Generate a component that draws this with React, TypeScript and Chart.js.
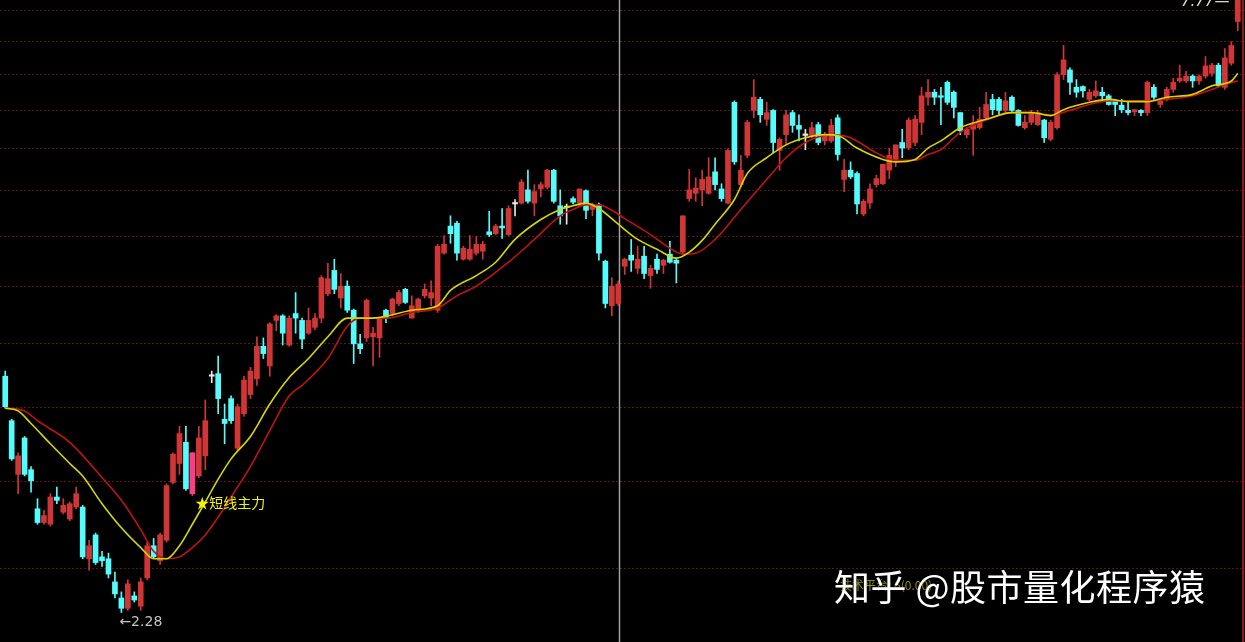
import React, { useEffect, useRef } from "react";
import { Chart, registerables } from "chart.js";

Chart.register(...registerables);

// ---- data ----
const opens = [3.73,3.40,3.04,3.28,3.07,2.83,2.75,2.74,2.90,2.81,2.77,2.84,2.84,2.55,2.68,2.56,2.55,2.43,2.35,2.30,2.36,2.31,2.45,2.62,2.54,2.65,2.99,3.11,3.25,2.92,3.03,3.16,3.73,3.75,3.41,3.56,3.21,3.45,3.59,3.71,3.97,3.81,4.19,4.23,3.98,4.25,4.19,4.08,4.13,4.21,4.43,4.65,4.39,4.50,4.28,3.99,4.04,4.05,4.04,4.28,4.25,4.34,4.47,4.21,4.28,4.41,4.39,4.28,4.82,5.10,5.13,4.76,4.76,4.82,4.84,5.04,5.02,5.10,5.01,5.34,5.35,5.50,5.35,5.51,5.53,5.73,5.32,5.30,5.40,5.35,5.49,5.28,5.33,4.74,4.32,4.34,4.69,4.80,4.67,4.79,4.60,4.76,4.70,4.81,4.75,4.83,5.40,5.46,5.50,5.46,5.71,5.51,5.35,6.60,5.56,5.91,6.49,6.64,6.37,6.49,5.97,6.17,6.46,6.29,6.16,6.16,6.30,6.09,6.09,6.39,5.62,5.73,5.69,5.23,5.35,5.56,5.57,5.73,5.86,6.07,6.00,6.07,6.33,6.67,6.74,6.69,6.88,6.74,6.46,6.17,6.24,6.26,6.39,6.64,6.64,6.49,6.67,6.49,6.26,6.33,6.30,6.36,6.11,6.26,6.99,7.06,6.81,6.82,6.64,6.69,6.74,6.69,6.62,6.56,6.49,6.47,6.49,6.46,6.81,6.57,6.64,6.78,6.90,6.90,6.97,6.90,6.97,7.01,7.13,6.81,7.16,7.81];
const highs = [3.77,3.41,3.18,3.29,3.09,2.89,2.82,2.92,2.96,2.89,2.87,2.96,2.85,2.65,2.69,2.59,2.58,2.48,2.38,2.44,2.38,2.45,2.64,2.66,2.69,2.98,3.18,3.36,3.36,3.18,3.36,3.55,3.77,3.89,3.52,3.58,3.52,3.73,3.80,4.05,4.04,4.17,4.24,4.24,4.23,4.44,4.21,4.30,4.25,4.60,4.72,4.76,4.62,4.55,4.29,4.07,4.38,4.13,4.21,4.29,4.39,4.46,4.48,4.41,4.39,4.52,4.55,4.91,5.00,5.21,5.15,4.89,5.00,4.99,4.94,5.26,5.12,5.29,5.32,5.39,5.62,5.73,5.56,5.59,5.74,5.74,5.50,5.34,5.42,5.51,5.50,5.35,5.35,4.75,4.58,4.55,4.77,4.96,4.89,4.89,4.70,4.81,4.76,4.94,4.77,5.21,5.74,5.64,5.73,5.88,5.88,5.57,5.99,6.62,5.91,6.36,6.92,6.67,6.60,6.50,6.13,6.49,6.49,6.43,6.24,6.33,6.33,6.20,6.37,6.43,5.86,5.83,5.71,5.39,5.57,5.67,5.80,6.00,6.04,6.24,6.39,6.42,6.81,6.92,6.78,6.81,6.90,6.76,6.46,6.26,6.42,6.53,6.74,6.71,6.67,6.74,6.69,6.50,6.42,6.49,6.49,6.37,6.36,7.02,7.43,7.09,6.92,6.83,6.78,6.90,6.81,6.71,6.64,6.64,6.62,6.50,6.50,6.90,6.85,6.64,6.81,6.94,7.13,7.04,6.99,6.99,7.26,7.16,7.16,7.38,7.49,8.30];
const lows = [3.49,3.13,2.92,3.03,2.93,2.74,2.74,2.73,2.86,2.80,2.76,2.83,2.55,2.49,2.52,2.51,2.45,2.35,2.28,2.29,2.33,2.29,2.44,2.55,2.52,2.64,2.98,3.04,2.94,2.91,3.02,3.07,3.68,3.45,3.24,3.38,3.19,3.43,3.56,3.66,3.87,3.73,4.10,3.98,3.97,4.08,3.95,4.07,4.11,4.17,4.41,4.43,4.30,4.26,3.83,3.91,4.01,3.81,3.88,4.17,4.23,4.32,4.34,4.21,4.26,4.39,4.32,4.26,4.81,4.92,4.75,4.75,4.75,4.80,4.76,4.99,5.01,4.97,5.00,5.21,5.34,5.35,5.21,5.42,5.51,5.35,5.12,5.12,5.34,5.32,5.18,5.21,4.75,4.30,4.23,4.32,4.61,4.64,4.62,4.57,4.48,4.62,4.62,4.72,4.53,4.81,5.37,5.37,5.32,5.45,5.50,5.37,5.34,5.80,5.53,5.88,6.39,6.33,6.29,5.94,5.73,6.04,6.20,6.09,5.98,6.13,6.04,6.04,6.07,5.85,5.48,5.63,5.23,5.21,5.29,5.53,5.56,5.63,5.77,5.88,5.98,6.03,6.17,6.56,6.57,6.30,6.57,6.39,6.17,6.13,5.91,6.24,6.37,6.43,6.43,6.46,6.46,6.28,6.24,6.30,6.29,6.07,6.09,6.24,6.92,6.71,6.67,6.67,6.62,6.67,6.62,6.56,6.42,6.46,6.43,6.42,6.42,6.42,6.64,6.53,6.62,6.74,6.88,6.88,6.81,6.85,6.94,6.97,6.81,6.78,7.13,7.66];
const closes = [3.50,3.14,3.16,3.04,3.00,2.75,2.79,2.90,2.88,2.85,2.86,2.92,2.56,2.62,2.53,2.54,2.47,2.37,2.30,2.42,2.34,2.43,2.62,2.56,2.68,2.97,3.17,3.31,2.95,3.18,3.28,3.40,3.73,3.56,3.38,3.40,3.50,3.70,3.77,3.97,3.91,4.16,4.23,4.08,4.21,4.21,4.03,4.19,4.21,4.58,4.57,4.47,4.50,4.28,3.99,3.95,4.37,4.08,4.20,4.21,4.38,4.44,4.35,4.32,4.38,4.47,4.44,4.89,4.91,5.02,4.82,4.87,4.86,4.91,4.91,5.01,5.10,5.08,5.29,5.34,5.59,5.37,5.48,5.56,5.73,5.37,5.21,5.30,5.36,5.51,5.27,5.33,4.82,4.34,4.50,4.52,4.76,4.75,4.76,4.62,4.67,4.66,4.75,4.73,4.72,5.21,5.50,5.52,5.62,5.65,5.56,5.40,5.97,5.83,5.73,6.33,6.67,6.43,6.46,6.07,6.11,6.43,6.29,6.24,6.16,6.26,6.07,6.16,6.29,5.92,5.73,5.65,5.34,5.37,5.51,5.63,5.80,5.91,6.04,6.00,6.36,6.37,6.69,6.74,6.67,6.67,6.60,6.53,6.22,6.24,6.30,6.37,6.57,6.50,6.49,6.62,6.49,6.29,6.33,6.46,6.46,6.13,6.33,6.99,7.21,6.88,6.74,6.76,6.74,6.76,6.69,6.57,6.57,6.50,6.46,6.50,6.46,6.88,6.67,6.62,6.78,6.88,6.94,6.97,6.90,6.97,7.12,7.13,6.83,7.24,7.43,8.25];

// short moving average (yellow), sampled at candle indices
const fastIdx = [0,2,4,7,10,12,15,18,21,23,25,27,29,31,33,35,38,41,44,47,50,53,57,60,63,67,69,73,76,79,83,86,88,90,92,95,98,101,104,106,108,110,113,115,118,121,124,127,129,132,136,138,141,143,145,148,152,156,159,162,164,168,171,174,177,180,184,187,190,191];
const fastVals = [3.49,3.47,3.38,3.24,3.11,3.03,2.86,2.72,2.61,2.55,2.55,2.62,2.74,2.87,3.01,3.14,3.29,3.52,3.72,3.87,4.05,4.21,4.21,4.24,4.28,4.32,4.46,4.60,4.73,4.96,5.17,5.28,5.32,5.35,5.29,5.12,4.96,4.86,4.77,4.83,4.95,5.12,5.39,5.69,5.88,6.04,6.13,6.17,6.16,6.00,5.86,5.83,5.86,6.00,6.09,6.26,6.37,6.46,6.46,6.42,6.50,6.60,6.64,6.61,6.61,6.67,6.71,6.83,6.90,7.01];
// long moving average (red)
const slowIdx = [0,3,5,10,15,18,21,23,25,27,29,31,33,35,38,41,44,46,50,53,55,59,63,67,70,73,78,82,86,88,90,92,94,96,100,103,105,107,110,114,118,121,124,128,131,135,138,141,143,145,148,152,156,159,162,165,168,171,174,177,180,184,187,190,191];
const slowVals = [3.49,3.47,3.40,3.25,3.02,2.88,2.71,2.59,2.55,2.56,2.61,2.68,2.78,2.90,3.09,3.33,3.58,3.66,3.87,4.14,4.21,4.21,4.26,4.30,4.41,4.50,4.73,4.96,5.21,5.28,5.33,5.33,5.27,5.18,5.01,4.87,4.81,4.82,4.96,5.28,5.62,5.88,6.07,6.17,6.13,5.94,5.85,5.85,5.92,5.98,6.20,6.36,6.46,6.46,6.43,6.49,6.57,6.62,6.62,6.62,6.64,6.69,6.78,6.88,6.90];

const gridPrices = [2.5, 3.0, 3.5, 4.0, 4.5, 5.0, 5.5, 6.0, 6.5, 7.0, 7.5, 8.0];
const highlightIndex = 29;
const lowMarkIndex = 18;
const lowMarkText = "←2.28";
const signalText = "★短线主力";
const separatorIndex = 95;
const yMin = 2.144;
const yMax = 8.168;

const labels = opens.map((_, i) => String(i + 1));

const UP = "#d03636";
const DOWN = "#54fcfc";
const FLAT = "#e6e6e6";
const HIGHLIGHT = "#ff3d84";

function candleColor(i: number) {
  if (i === highlightIndex) return HIGHLIGHT;
  if (closes[i] > opens[i]) return UP;
  if (closes[i] < opens[i]) return DOWN;
  return FLAT;
}

function sparse(idx: number[], vals: number[]) {
  const out: (number | null)[] = opens.map(() => null);
  idx.forEach((k, j) => (out[k] = vals[j]));
  return out;
}

const overlayPlugin = {
  id: "overlay",
  beforeDatasetsDraw(chart: any) {
    const { ctx, scales } = chart;
    const x = scales.x;
    const y = scales.y;
    ctx.save();
    ctx.strokeStyle = "rgba(95,20,20,1)";
    ctx.lineWidth = 1;
    ctx.setLineDash([2, 2]);
    gridPrices.forEach((p) => {
      const py = Math.round(y.getPixelForValue(p)) + 0.5;
      ctx.beginPath();
      ctx.moveTo(0, py);
      ctx.lineTo(chart.width, py);
      ctx.stroke();
    });
    ctx.setLineDash([]);
    const sx = Math.round(x.getPixelForValue(separatorIndex)) + 1.5;
    ctx.strokeStyle = "#a0a0a0";
    ctx.lineWidth = 1.5;
    ctx.beginPath();
    ctx.moveTo(sx, 0);
    ctx.lineTo(sx, chart.height);
    ctx.stroke();
    ctx.strokeStyle = "#8e1818";
    ctx.lineWidth = 2;
    ctx.beginPath();
    ctx.moveTo(chart.width - 2, 0);
    ctx.lineTo(chart.width - 2, chart.height);
    ctx.stroke();
    ctx.restore();
  },
  afterDatasetsDraw(chart: any) {
    const { ctx, scales } = chart;
    const x = scales.x;
    const y = scales.y;
    ctx.save();
    // signal label under the highlighted candle
    const hx = x.getPixelForValue(highlightIndex);
    const hy = y.getPixelForValue(lows[highlightIndex]);
    ctx.font = '14px "Noto Sans CJK SC", "Noto Sans", sans-serif';
    ctx.fillStyle = "#f2f20a";
    ctx.textBaseline = "middle";
    ctx.textAlign = "left";
    ctx.fillText(signalText, hx + 3, hy + 7);
    // lowest price label
    const lx = x.getPixelForValue(lowMarkIndex);
    const ly = y.getPixelForValue(lows[lowMarkIndex]);
    ctx.font = '14px "DejaVu Sans", sans-serif';
    ctx.fillStyle = "#c4c4c4";
    ctx.fillText(lowMarkText, lx - 2, ly + 10);
    ctx.restore();
  },
};

export default function App() {
  const ref = useRef<HTMLCanvasElement | null>(null);

  useEffect(() => {
    if (!ref.current) return;
    const colors = opens.map((_, i) => candleColor(i));
    const chart = new Chart(ref.current, {
      data: {
        labels,
        datasets: [
          {
            type: "line",
            label: "MA short",
            data: sparse(fastIdx, fastVals),
            borderColor: "#d6d600",
            borderWidth: 1.6,
            pointRadius: 0,
            spanGaps: true,
            cubicInterpolationMode: "monotone",
            order: 0,
          } as any,
          {
            type: "line",
            label: "MA long",
            data: sparse(slowIdx, slowVals),
            borderColor: "#c01414",
            borderWidth: 1.6,
            pointRadius: 0,
            spanGaps: true,
            cubicInterpolationMode: "monotone",
            order: 1,
          } as any,
          {
            type: "bar",
            label: "body",
            data: opens.map((o, i) => [o, closes[i]]),
            backgroundColor: colors,
            barThickness: 5,
            minBarLength: 1.5,
            grouped: false,
            order: 2,
          } as any,
          {
            type: "bar",
            label: "wick",
            data: lows.map((l, i) => [l, highs[i]]),
            backgroundColor: colors,
            barThickness: 1,
            grouped: false,
            order: 3,
          } as any,
        ],
      },
      options: {
        animation: false,
        responsive: true,
        maintainAspectRatio: false,
        events: [],
        layout: { padding: { left: 2, right: 4, top: 0, bottom: 0 } },
        plugins: { legend: { display: false }, tooltip: { enabled: false } },
        scales: {
          x: { type: "category", display: false, offset: true },
          y: { type: "logarithmic", display: false, min: yMin, max: yMax },
        },
      } as any,
      plugins: [overlayPlugin],
    });
    return () => chart.destroy();
  }, []);

  return (
    <div
      style={{
        position: "fixed",
        left: 0,
        top: 0,
        width: 1245,
        height: 642,
        background: "#000",
        overflow: "hidden",
      }}
    >
      <canvas ref={ref} />
      <div
        style={{
          position: "absolute",
          left: 1181,
          top: -8,
          color: "#d8d8d8",
          font: 'italic 15px "DejaVu Sans", sans-serif',
          whiteSpace: "nowrap",
        }}
      >
        7.77—
      </div>
      <div
        style={{
          position: "absolute",
          left: 840,
          top: 576,
          color: "rgba(190,190,20,0.75)",
          font: '12px "Noto Sans CJK SC", sans-serif',
          whiteSpace: "nowrap",
        }}
      >
        技术平台: 6(0.00)
      </div>
      <div
        style={{
          position: "absolute",
          left: 834,
          top: 560,
          color: "#ffffff",
          font: '36px "Noto Sans CJK SC", sans-serif',
          whiteSpace: "nowrap",
          textShadow: "0 0 2px rgba(0,0,0,0.9)",
          lineHeight: "50px",
          letterSpacing: "0.5px",
        }}
      >
        知乎 @股市量化程序猿
      </div>
    </div>
  );
}
